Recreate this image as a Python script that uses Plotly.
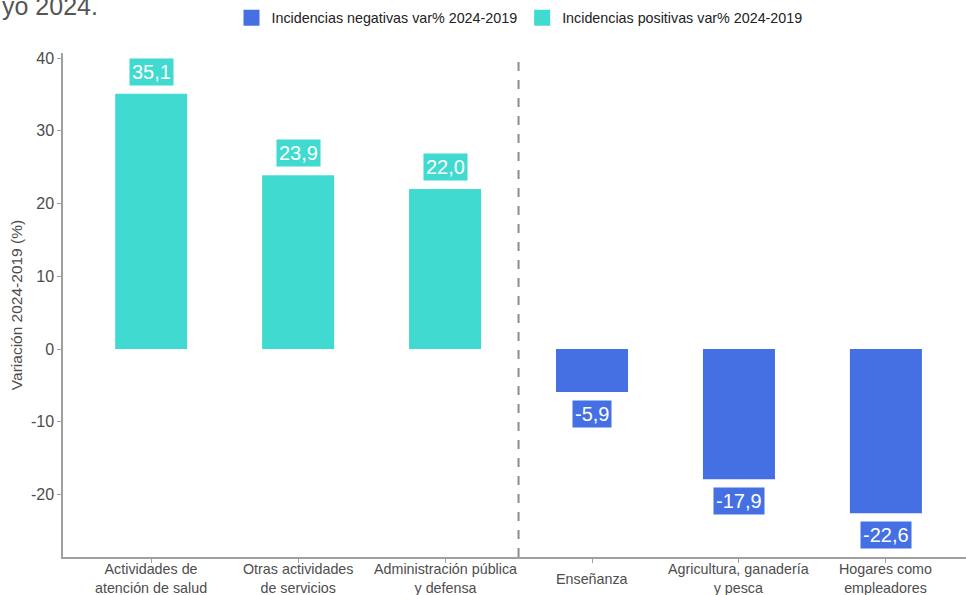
import plotly.graph_objects as go

categories = ["Actividades de<br>atención de salud", "Otras actividades<br>de servicios",
              "Administración pública<br>y defensa", "Enseñanza",
              "Agricultura, ganadería<br>y pesca", "Hogares como<br>empleadores"]
pos_cats = categories[:3]
pos_vals = [35.1, 23.9, 22.0]
neg_cats = categories[3:]
neg_vals = [-5.9, -17.9, -22.6]
pos_name = "Incidencias positivas var% 2024-2019"
neg_name = "Incidencias negativas var% 2024-2019"
title_text = "yo 2024."
y_title = "Variación 2024-2019 (%)"
y_ticks = [-20, -10, 0, 10, 20, 30, 40]
y_ticktext = ["-20", "-10", "0", "10", "20", "30", "40"]

TEAL = "#40DAD0"
BLUE = "#4570E3"
FONT = "Arial, Liberation Sans, sans-serif"

L, T, B = 63, 53, 557
W, H = 966, 595
PW, PH = W - L, B - T

fig = go.Figure()
fig.add_trace(go.Bar(x=pos_cats, y=pos_vals, name=pos_name, marker_color=TEAL,
                     marker_line_width=0, width=0.49, showlegend=False))
fig.add_trace(go.Bar(x=neg_cats, y=neg_vals, name=neg_name, marker_color=BLUE,
                     marker_line_width=0, width=0.49, showlegend=False))
# legend entries with larger square symbols
fig.add_trace(go.Scatter(x=[None], y=[None], mode="markers", name=neg_name,
                         marker=dict(symbol="square", size=18, color=BLUE)))
fig.add_trace(go.Scatter(x=[None], y=[None], mode="markers", name=pos_name,
                         marker=dict(symbol="square", size=18, color=TEAL)))

def fmt(v):
    return f"{v:.1f}".replace(".", ",")

for c, v in zip(pos_cats, pos_vals):
    fig.add_annotation(x=c, y=v, text=fmt(v), showarrow=False, yshift=22,
                       bgcolor=TEAL, borderpad=2, font=dict(color="white", size=20, family=FONT))
for c, v in zip(neg_cats, neg_vals):
    fig.add_annotation(x=c, y=v, text=fmt(v), showarrow=False, yshift=-22,
                       bgcolor=BLUE, borderpad=2, font=dict(color="white", size=20, family=FONT))

# category labels, vertically centred below the axis
for c in categories:
    fig.add_annotation(x=c, xref="x", yref="paper", y=-(578.5 - B) / PH, text=c,
                       showarrow=False, xanchor="center", yanchor="middle",
                       font=dict(size=14.3, color="#4d4d4d", family=FONT))

fig.add_shape(type="line", xref="x", yref="paper", x0=2.5, x1=2.5, y0=0, y1=1,
              line=dict(color="#8c8c8c", width=2, dash="dash"))

fig.add_annotation(xref="paper", yref="paper", x=-L / PW, y=(B - 6) / PH, xanchor="left",
                   yanchor="middle", text=title_text, showarrow=False,
                   font=dict(size=25, color="#555555", family=FONT))

fig.update_layout(
    width=W, height=H,
    margin=dict(l=L, r=0, t=T, b=H - B, autoexpand=False),
    plot_bgcolor="white", paper_bgcolor="white",
    barmode="relative",
    font=dict(family=FONT, color="#4d4d4d"),
    showlegend=True,
    legend=dict(orientation="h", x=(519.5 - L) / PW, xanchor="center", y=(B - 18) / PH,
                yanchor="middle", font=dict(size=14.3, color="#222222"), traceorder="normal",
                itemsizing="trace"),
    xaxis=dict(categoryorder="array", categoryarray=categories, range=[-0.6, 5.545],
               showline=True, linecolor="#a0a0a0", linewidth=1.5, ticks="outside",
               tickcolor="#a0a0a0", ticklen=4, showticklabels=False,
               showgrid=False, zeroline=False),
    yaxis=dict(range=[-28.6, 40.7], tickvals=y_ticks, ticktext=y_ticktext, showline=True,
               linecolor="#a0a0a0", linewidth=1.5, ticks="outside", tickcolor="#a0a0a0",
               ticklen=4, tickfont=dict(size=16, color="#4d4d4d"), showgrid=False,
               zeroline=False,
               title=dict(text=y_title, font=dict(size=15.5, color="#4d4d4d"), standoff=4)),
)

fig.write_html("out.html", config={"displayModeBar": False},
               post_script="document.body.style.margin='0';")
